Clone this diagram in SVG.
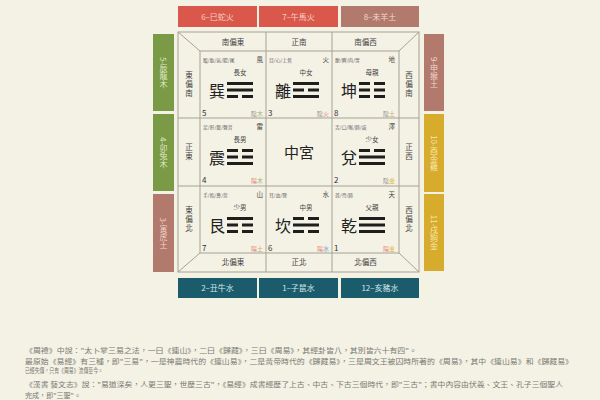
<svg xmlns="http://www.w3.org/2000/svg" width="600" height="400" viewBox="0 0 600 400">
<style>
text{font-family:"Noto Sans CJK TC","Noto Sans CJK SC",sans-serif}
.bar{font-size:8px;text-anchor:middle}
.vt{writing-mode:vertical-rl}
.hd{font-size:7.5px;fill:#444;text-anchor:middle}
.vs{letter-spacing:1.5px}
.sm{font-size:4.8px;fill:#666}
.cn{font-size:6.5px;fill:#444;text-anchor:end}
.role{font-size:6.5px;fill:#444;text-anchor:middle}
.big{font-size:16px;fill:#222;text-anchor:middle}
.num{font-size:8px;fill:#333}
.yy{font-size:6px;text-anchor:end}
.ln{fill:#1e1e1e}
.fr{fill:none;stroke:#a5a195;stroke-width:1}
.note{font-size:6.6px;fill:#7a7a72}
</style>
<rect width="600" height="400" fill="#f4f1e5"/>
<g id="zodiac-top">
<rect x="178" y="6" width="79" height="21" fill="#d9584b"/>
<rect x="259" y="6" width="79" height="21" fill="#d9584b"/>
<rect x="341" y="6" width="78" height="21" fill="#b27a6c"/>
<text class="bar" x="217.5" y="19.5" fill="#f6cfc6">6–巳蛇火</text>
<text class="bar" x="298.5" y="19.5" fill="#f6cfc6">7–午馬火</text>
<text class="bar" x="380" y="19.5" fill="#efd6cd">8–未羊土</text>
</g>
<g id="zodiac-left">
<rect x="153" y="34" width="21" height="77" fill="#7b9a45"/>
<rect x="153" y="114" width="21" height="77" fill="#7b9a45"/>
<rect x="153" y="194" width="21" height="78" fill="#b27a6c"/>
<text class="bar vt" x="163.5" y="72.5" fill="#dfe9c3">5-辰龍木</text>
<text class="bar vt" x="163.5" y="152.5" fill="#dfe9c3">4-卯兔木</text>
<text class="bar vt" x="163.5" y="233" fill="#f2d2c8">3-寅虎土</text>
</g>
<g id="zodiac-right">
<rect x="424" y="34" width="20" height="77" fill="#b27a6c"/>
<rect x="424" y="114" width="20" height="78" fill="#d7ab2b"/>
<rect x="424" y="194" width="20" height="77" fill="#d7ab2b"/>
<text class="bar vt" x="434" y="72.5" fill="#efd6cd">9-申猴土</text>
<text class="bar vt" x="434" y="153" fill="#f7e7b0">10-酉金雞</text>
<text class="bar vt" x="434" y="232.5" fill="#f7e7b0">11-戌狗金</text>
</g>
<g id="zodiac-bottom">
<rect x="178" y="278" width="79" height="20" fill="#1b5c6c"/>
<rect x="259" y="278" width="79" height="20" fill="#1b5c6c"/>
<rect x="341" y="278" width="78" height="20" fill="#1b5c6c"/>
<text class="bar" x="217.5" y="291" fill="#d3e6ea">2–丑牛水</text>
<text class="bar" x="298.5" y="291" fill="#d3e6ea">1–子鼠水</text>
<text class="bar" x="380" y="291" fill="#d3e6ea">12–亥豬水</text>
</g>
<g id="frame">
<rect x="178" y="32" width="241" height="240" fill="#f6f3e9" class="fr"/>
<rect x="200" y="51" width="199" height="202" class="fr"/>
<path class="fr" d="M178 32L200 51M419 32L399 51M178 272L200 253M419 272L399 253M266 32V272M332 32V272M178 118H419M178 186H419"/>
<text class="hd" x="233" y="44.5">南偏東</text>
<text class="hd" x="299" y="44.5">正南</text>
<text class="hd" x="365.5" y="44.5">南偏西</text>
<text class="hd" x="233" y="265">北偏東</text>
<text class="hd" x="299" y="265">正北</text>
<text class="hd" x="365.5" y="265">北偏西</text>
<text class="hd vt vs" x="189" y="85">東偏南</text>
<text class="hd vt vs" x="189" y="152">正東</text>
<text class="hd vt vs" x="189" y="220">東偏北</text>
<text class="hd vt vs" x="409" y="85">西偏南</text>
<text class="hd vt vs" x="409" y="152">正西</text>
<text class="hd vt vs" x="409" y="220">西偏北</text>
</g>
<g id="xun" transform="translate(200,51)">
<text class="sm" x="3" y="11">股/肱/氣/腸/尾</text><text class="cn" x="63" y="11">風</text>
<text class="role" x="40" y="24">長女</text><text class="big" x="17" y="46">巽</text>
<rect class="ln" x="27" y="31" width="26" height="3"/><rect class="ln" x="27" y="37.5" width="26" height="3"/><rect class="ln" x="27" y="44" width="11" height="3"/><rect class="ln" x="42" y="44" width="11" height="3"/>
<text class="num" x="2" y="65">5</text><text class="yy" x="63" y="65"><tspan fill="#8a887c">陰</tspan><tspan fill="#9db070">木</tspan></text>
</g>
<g id="li" transform="translate(266,51)">
<text class="sm" x="3" y="11">目/心/上焦</text><text class="cn" x="63" y="11">火</text>
<text class="role" x="40" y="24">中女</text><text class="big" x="17" y="46">離</text>
<rect class="ln" x="27" y="31" width="26" height="3"/><rect class="ln" x="27" y="37.5" width="11" height="3"/><rect class="ln" x="42" y="37.5" width="11" height="3"/><rect class="ln" x="27" y="44" width="26" height="3"/>
<text class="num" x="2" y="65">3</text><text class="yy" x="63" y="65"><tspan fill="#8a887c">陰</tspan><tspan fill="#e4897c">火</tspan></text>
</g>
<g id="kun" transform="translate(332,51)">
<text class="sm" x="3" y="11">腹/脾/肉/胃</text><text class="cn" x="63" y="11">地</text>
<text class="role" x="40" y="24">母親</text><text class="big" x="17" y="46">坤</text>
<rect class="ln" x="27" y="31" width="11" height="3"/><rect class="ln" x="42" y="31" width="11" height="3"/><rect class="ln" x="27" y="37.5" width="11" height="3"/><rect class="ln" x="42" y="37.5" width="11" height="3"/><rect class="ln" x="27" y="44" width="11" height="3"/><rect class="ln" x="42" y="44" width="11" height="3"/>
<text class="num" x="2" y="65">8</text><text class="yy" x="63" y="65"><tspan fill="#8a887c">陰</tspan><tspan fill="#cdb06a">土</tspan></text>
</g>
<g id="zhen" transform="translate(200,118)">
<text class="sm" x="3" y="11">足/肝/髮/聲音</text><text class="cn" x="63" y="11">雷</text>
<text class="role" x="40" y="24">長男</text><text class="big" x="17" y="46">震</text>
<rect class="ln" x="27" y="31" width="11" height="3"/><rect class="ln" x="42" y="31" width="11" height="3"/><rect class="ln" x="27" y="37.5" width="11" height="3"/><rect class="ln" x="42" y="37.5" width="11" height="3"/><rect class="ln" x="27" y="44" width="26" height="3"/>
<text class="num" x="2" y="65">4</text><text class="yy" x="63" y="65"><tspan fill="#e4897c">陽</tspan><tspan fill="#9db070">木</tspan></text>
</g>
<g id="center" transform="translate(266,118)">
<text x="33" y="39.5" font-size="15" fill="#222" text-anchor="middle">中宮</text>
</g>
<g id="dui" transform="translate(332,118)">
<text class="sm" x="3" y="11">舌/口/喉/肺/痰</text><text class="cn" x="63" y="11">澤</text>
<text class="role" x="40" y="24">少女</text><text class="big" x="17" y="46">兌</text>
<rect class="ln" x="27" y="31" width="11" height="3"/><rect class="ln" x="42" y="31" width="11" height="3"/><rect class="ln" x="27" y="37.5" width="26" height="3"/><rect class="ln" x="27" y="44" width="26" height="3"/>
<text class="num" x="2" y="65">2</text><text class="yy" x="63" y="65"><tspan fill="#8a887c">陰</tspan><tspan fill="#e3bb4a">金</tspan></text>
</g>
<g id="gen" transform="translate(200,186)">
<text class="sm" x="3" y="11">手/指/鼻/背</text><text class="cn" x="63" y="11">山</text>
<text class="role" x="40" y="24">少男</text><text class="big" x="17" y="46">艮</text>
<rect class="ln" x="27" y="31" width="26" height="3"/><rect class="ln" x="27" y="37.5" width="11" height="3"/><rect class="ln" x="42" y="37.5" width="11" height="3"/><rect class="ln" x="27" y="44" width="11" height="3"/><rect class="ln" x="42" y="44" width="11" height="3"/>
<text class="num" x="2" y="65">7</text><text class="yy" x="63" y="65"><tspan fill="#e4897c">陽</tspan><tspan fill="#cdb06a">土</tspan></text>
</g>
<g id="kan" transform="translate(266,186)">
<text class="sm" x="3" y="11">耳/血/腎</text><text class="cn" x="63" y="11">水</text>
<text class="role" x="40" y="24">中男</text><text class="big" x="17" y="46">坎</text>
<rect class="ln" x="27" y="31" width="11" height="3"/><rect class="ln" x="42" y="31" width="11" height="3"/><rect class="ln" x="27" y="37.5" width="26" height="3"/><rect class="ln" x="27" y="44" width="11" height="3"/><rect class="ln" x="42" y="44" width="11" height="3"/>
<text class="num" x="2" y="65">6</text><text class="yy" x="63" y="65"><tspan fill="#e4897c">陽</tspan><tspan fill="#7fa6c8">水</tspan></text>
</g>
<g id="qian" transform="translate(332,186)">
<text class="sm" x="3" y="11">首/骨/肺</text><text class="cn" x="63" y="11">天</text>
<text class="role" x="40" y="24">父親</text><text class="big" x="17" y="46">乾</text>
<rect class="ln" x="27" y="31" width="26" height="3"/><rect class="ln" x="27" y="37.5" width="26" height="3"/><rect class="ln" x="27" y="44" width="26" height="3"/>
<text class="num" x="2" y="65">1</text><text class="yy" x="63" y="65"><tspan fill="#e4897c">陽</tspan><tspan fill="#e3bb4a">金</tspan></text>
</g>
<g id="notes">
<text class="note" x="25" y="352.5" textLength="392" lengthAdjust="spacingAndGlyphs">《周禮》中說："太卜掌三易之法，一曰《連山》，二曰《歸藏》，三曰《周易》，其經卦皆八，其別皆六十有四"。</text>
<text class="note" x="25" y="363.5" textLength="548" lengthAdjust="spacingAndGlyphs">最原始《易經》有三種，即"三易"，一是神農時代的《連山易》，二是黃帝時代的《歸藏易》，三是周文王被囚時所著的《周易》，其中《連山易》和《歸藏易》</text>
<text class="note" x="25" y="373" textLength="78" lengthAdjust="spacingAndGlyphs">已經失傳，只有《周易》流傳至今。</text>
<text class="note" x="25" y="387" textLength="538" lengthAdjust="spacingAndGlyphs">《漢書 藝文志》說："易道深矣，人更三聖，世歷三古"，《易經》成書經歷了上古、中古、下古三個時代，即"三古"；書中內容由伏羲、文王、孔子三個聖人</text>
<text class="note" x="25" y="397.5" textLength="56" lengthAdjust="spacingAndGlyphs">完成，即"三聖"。</text>
</g>
</svg>
